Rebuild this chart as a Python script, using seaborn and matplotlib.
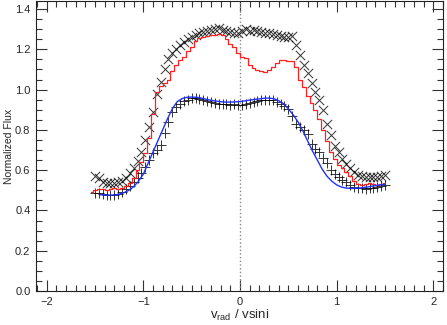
import numpy as np
import seaborn as sns
import matplotlib.pyplot as plt
from matplotlib.ticker import MultipleLocator

# observed profile 1 (x markers) and 2 (+ markers), same velocity grid
x_obs = np.round(np.arange(-1.50, 1.5001, 0.04), 2)
y_obs1 = [0.570, 0.560, 0.540, 0.535, 0.535, 0.537, 0.540, 0.548, 0.560, 0.585,
          0.610, 0.645, 0.690, 0.750, 0.815, 0.890, 0.980, 1.040, 1.100, 1.150,
          1.180, 1.200, 1.220, 1.235, 1.250, 1.260, 1.270, 1.280, 1.285, 1.290,
          1.295, 1.300, 1.305, 1.295, 1.290, 1.285, 1.280, 1.280, 1.290, 1.300,
          1.290, 1.295, 1.290, 1.285, 1.280, 1.280, 1.275, 1.270, 1.265, 1.260,
          1.260, 1.265, 1.220, 1.170, 1.120, 1.080, 1.035, 0.990, 0.950, 0.900,
          0.830, 0.775, 0.720, 0.690, 0.655, 0.630, 0.610, 0.590, 0.575, 0.570,
          0.566, 0.565, 0.567, 0.566, 0.570, 0.575]
y_obs2 = [0.487, 0.485, 0.480, 0.478, 0.477, 0.478, 0.483, 0.490, 0.505, 0.520,
          0.540, 0.560, 0.585, 0.615, 0.650, 0.685, 0.700, 0.725, 0.785, 0.840,
          0.890, 0.915, 0.930, 0.945, 0.950, 0.960, 0.960, 0.955, 0.950, 0.945,
          0.940, 0.935, 0.930, 0.930, 0.930, 0.925, 0.930, 0.925, 0.925, 0.930,
          0.935, 0.940, 0.945, 0.950, 0.950, 0.950, 0.948, 0.940, 0.930, 0.920,
          0.905, 0.870, 0.830, 0.815, 0.800, 0.780, 0.730, 0.705, 0.690, 0.660,
          0.635, 0.600, 0.580, 0.565, 0.550, 0.540, 0.525, 0.515, 0.510, 0.510,
          0.508, 0.510, 0.512, 0.516, 0.520, 0.526]

# model 1 (red histogram)
x_mod1 = np.round(np.arange(-1.54, 1.5001, 0.04), 2)
y_mod1 = [0.490, 0.500, 0.505, 0.505, 0.500, 0.505, 0.510, 0.505, 0.510, 0.520,
          0.535, 0.560, 0.600, 0.640, 0.685, 0.760, 0.880, 0.990, 1.020, 1.035,
          1.050, 1.090, 1.120, 1.145, 1.160, 1.190, 1.210, 1.240, 1.255, 1.260,
          1.265, 1.270, 1.270, 1.275, 1.270, 1.250, 1.225, 1.210, 1.180, 1.160,
          1.155, 1.120, 1.105, 1.097, 1.090, 1.087, 1.095, 1.110, 1.130, 1.145,
          1.147, 1.140, 1.140, 1.110, 1.050, 1.015, 0.970, 0.935, 0.900, 0.855,
          0.800, 0.745, 0.690, 0.655, 0.625, 0.610, 0.590, 0.570, 0.545, 0.530,
          0.525, 0.530, 0.536, 0.530, 0.526, 0.530, 0.535]

# model 2 (blue smooth)
x_mod2 = np.round(np.arange(-1.45, 1.5001, 0.05), 2)
y_mod2 = [0.478, 0.477, 0.476, 0.477, 0.481, 0.488, 0.500, 0.518, 0.545, 0.580,
          0.635, 0.690, 0.745, 0.800, 0.855, 0.905, 0.940, 0.955, 0.962, 0.963,
          0.962, 0.958, 0.952, 0.947, 0.943, 0.940, 0.938, 0.938, 0.939, 0.941,
          0.944, 0.948, 0.951, 0.954, 0.957, 0.958, 0.955, 0.945, 0.930, 0.905,
          0.875, 0.840, 0.795, 0.745, 0.695, 0.650, 0.605, 0.570, 0.545, 0.527,
          0.516, 0.511, 0.509, 0.510, 0.512, 0.515, 0.519, 0.523, 0.527, 0.530]

sns.set_style('ticks')
plt.rcParams['font.family'] = ['Liberation Sans', 'DejaVu Sans']

fig = plt.figure(figsize=(4.47, 3.25), dpi=100)
ax = fig.add_axes([36 / 447, 1 - 291 / 325, 407 / 447, 290 / 325])

ax.axvline(0, color='#888888', linestyle=':', linewidth=1.0, zorder=1)

sns.scatterplot(x=x_obs, y=y_obs1, marker='x', color='black', s=45,
                linewidth=0.7, alpha=0.8, ax=ax, zorder=3)
sns.scatterplot(x=x_obs, y=y_obs2, marker='+', color='black', s=45,
                linewidth=0.7, alpha=0.8, ax=ax, zorder=3)
sns.lineplot(x=x_mod1, y=y_mod1, color='#ff2020', linewidth=0.9,
             drawstyle='steps-mid', estimator=None, ax=ax, zorder=4)
sns.lineplot(x=x_mod2, y=y_mod2, color='#2030ff', linewidth=1.0,
             estimator=None, ax=ax, zorder=4)

ax.set_xlim(-2.11, 2.10)
ax.set_ylim(0, 1.44)
ax.xaxis.set_major_locator(MultipleLocator(1))
ax.xaxis.set_minor_locator(MultipleLocator(0.1))
ax.yaxis.set_major_locator(MultipleLocator(0.2))
ax.yaxis.set_minor_locator(MultipleLocator(0.05))
ax.xaxis.set_major_formatter(plt.FuncFormatter(lambda v, p: f'{v:.0f}'.replace('-', '\u2212')))
ax.yaxis.set_major_formatter(plt.FuncFormatter(lambda v, p: f'{v:.1f}'))
ax.tick_params(which='both', direction='in', top=True, right=True,
               labelsize=8, color='#333333', width=0.8)
ax.tick_params(which='major', length=8, pad=4)
ax.tick_params(which='minor', length=4)
for s in ax.spines.values():
    s.set_linewidth(0.8)
    s.set_color('#222222')

ax.set_xlabel(r'$\mathregular{v_{rad}}$ / vsini', fontsize=9.5, labelpad=1)
ax.set_ylabel('Normalized Flux', fontsize=7.5, labelpad=1)

plt.savefig('out.png', dpi=100)
